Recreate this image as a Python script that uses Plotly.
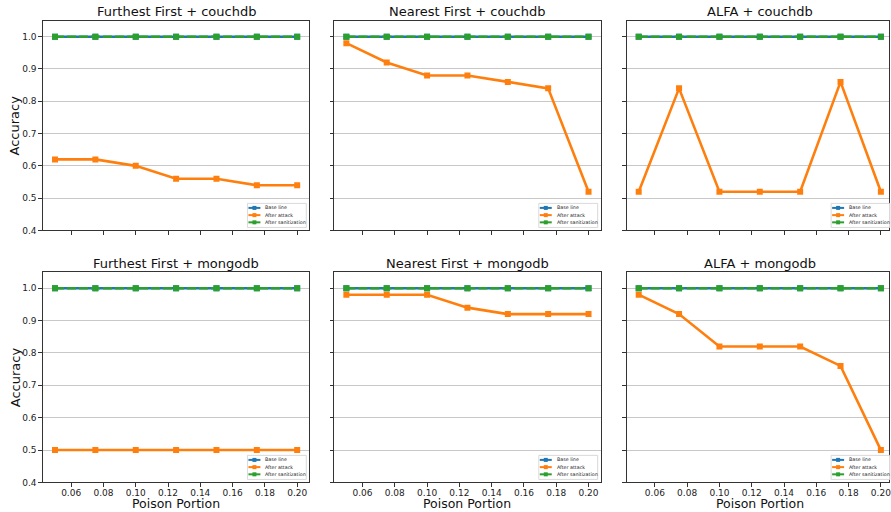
import plotly.graph_objects as go
from plotly.subplots import make_subplots

W, H = 891, 512
H_LAYOUT = 518  # the capture squeezes the page height slightly

portions = [0.05, 0.075, 0.10, 0.125, 0.15, 0.175, 0.20]
titles = ["Furthest First + couchdb", "Nearest First + couchdb", "ALFA + couchdb",
          "Furthest First + mongodb", "Nearest First + mongodb", "ALFA + mongodb"]
base_line = [1.0, 1.0, 1.0, 1.0, 1.0, 1.0, 1.0]
after_sanitization = [1.0, 1.0, 1.0, 1.0, 1.0, 1.0, 1.0]
attack_ff_couch = [0.62, 0.62, 0.60, 0.56, 0.56, 0.54, 0.54]
attack_nf_couch = [0.98, 0.92, 0.88, 0.88, 0.86, 0.84, 0.52]
attack_alfa_couch = [0.52, 0.84, 0.52, 0.52, 0.52, 0.86, 0.52]
attack_ff_mongo = [0.50, 0.50, 0.50, 0.50, 0.50, 0.50, 0.50]
attack_nf_mongo = [0.98, 0.98, 0.98, 0.94, 0.92, 0.92, 0.92]
attack_alfa_mongo = [0.98, 0.92, 0.82, 0.82, 0.82, 0.76, 0.50]
attacks = [attack_ff_couch, attack_nf_couch, attack_alfa_couch,
           attack_ff_mongo, attack_nf_mongo, attack_alfa_mongo]
series_names = ["Base line", "After attack", "After sanitization"]
y_ticks = [0.4, 0.5, 0.6, 0.7, 0.8, 0.9, 1.0]
x_ticks = [0.06, 0.08, 0.10, 0.12, 0.14, 0.16, 0.18, 0.20]

BLUE, ORANGE, GREEN = "#1f77b4", "#ff7f0e", "#2ca02c"
FONT = "DejaVu Sans"
AX = "#333333"

# pixel geometry of axes boxes (reference image pixels)
col_px = [(43, 310), (335, 602), (628, 891)]
row_px = [(20.5, 230), (271.5, 481.5)]
xscale = 267 / 0.165

fig = make_subplots(rows=2, cols=3)

for i in range(6):
    r, c = divmod(i, 3)
    fig.add_trace(go.Scatter(x=portions, y=base_line, mode="lines+markers", name=series_names[0],
                             line=dict(color=BLUE, width=2.6), marker=dict(symbol="square", size=6, color=BLUE),
                             showlegend=False), row=r + 1, col=c + 1)
    fig.add_trace(go.Scatter(x=portions, y=attacks[i], mode="lines+markers", name=series_names[1],
                             line=dict(color=ORANGE, width=2.6), marker=dict(symbol="square", size=6, color=ORANGE),
                             showlegend=False), row=r + 1, col=c + 1)
    fig.add_trace(go.Scatter(x=portions, y=after_sanitization, mode="lines+markers", name=series_names[2],
                             line=dict(color=GREEN, width=2.6, dash="9px,3px"),
                             marker=dict(symbol="square", size=6, color=GREEN),
                             showlegend=False), row=r + 1, col=c + 1)

annotations = []
shapes = []

def px(x):
    return x / W

def py(y):
    return 1 - y / H

for i in range(6):
    r, c = divmod(i, 3)
    L, R = col_px[c]
    T, B = row_px[r]
    n = "" if i == 0 else str(i + 1)
    xr = [0.0425, 0.0425 + (R - L) / xscale]
    fig.layout["xaxis" + n].update(
        domain=[px(L), px(R)], range=xr, tickvals=x_ticks, tickformat=".2f",
        showticklabels=(r == 1), ticks="outside", ticklen=3.5, tickwidth=1, tickcolor=AX,
        showline=True, mirror=True, linecolor=AX, linewidth=1, showgrid=False, zeroline=False,
        ticklabeloverflow="allow",
        tickfont=dict(family=FONT, size=9, color="#222"))
    try:
        fig.layout["xaxis" + n].ticklabelstandoff = -2
    except Exception:
        pass
    fig.layout["yaxis" + n].update(
        domain=[py(B), py(T)], range=[0.4, 1.05], tickvals=y_ticks, tickformat=".1f",
        showticklabels=(c == 0), ticks="outside", ticklen=3.5, tickwidth=1, tickcolor=AX,
        showline=True, mirror=True, linecolor=AX, linewidth=1, showgrid=True,
        gridcolor="#c8c8c8", gridwidth=1, zeroline=False,
        tickfont=dict(family=FONT, size=9, color="#222"))
    # subplot title
    cx = (L + (L + 267)) / 2 if c == 2 else (L + R) / 2
    annotations.append(dict(text=titles[i], x=px(cx), y=py(T - 9), xref="paper", yref="paper",
                            xanchor="center", yanchor="middle", showarrow=False,
                            font=dict(family=FONT, size=13, color="#111")))
    # legend box
    shapes.append(dict(type="rect", xref="paper", yref="paper", x0=px(L + 205), x1=px(L + 264),
                       y0=py(B - 3), y1=py(B - 27), fillcolor="rgba(255,255,255,0.85)",
                       line=dict(color="#d0d0d0", width=0.8), layer="above"))
    for k, (nm, col) in enumerate(zip(series_names, [BLUE, ORANGE, GREEN])):
        yy = B - 22.5 + 7.2 * k
        shapes.append(dict(type="line", xref="paper", yref="paper", x0=px(L + 206), x1=px(L + 218),
                           y0=py(yy), y1=py(yy), line=dict(color=col, width=2), layer="above"))
        shapes.append(dict(type="rect", xref="paper", yref="paper", x0=px(L + 210), x1=px(L + 214),
                           y0=py(yy - 2), y1=py(yy + 2), fillcolor=col, line=dict(width=0), layer="above"))
        annotations.append(dict(text=nm, x=px(L + 221), y=py(yy), xref="paper", yref="paper",
                                xanchor="left", yanchor="middle", showarrow=False,
                                font=dict(family=FONT, size=4.8, color="#222")))

# axis titles
for r in range(2):
    T, B = row_px[r]
    annotations.append(dict(text="Accuracy", x=px(15), y=py((T + B) / 2), xref="paper", yref="paper",
                            textangle=-90, xanchor="center", yanchor="middle", showarrow=False,
                            font=dict(family=FONT, size=13, color="#111")))
for c in range(3):
    L, R = col_px[c]
    cx = (L + L + 267) / 2
    annotations.append(dict(text="Poison Portion", x=px(cx), y=py(502.5), xref="paper", yref="paper",
                            xanchor="center", yanchor="middle", showarrow=False,
                            font=dict(family=FONT, size=12.5, color="#111")))

fig.update_layout(width=W, height=H_LAYOUT, margin=dict(l=0, r=0, t=0, b=0),
                  paper_bgcolor="white", plot_bgcolor="white",
                  annotations=annotations, shapes=shapes, showlegend=False,
                  font=dict(family=FONT))

fig.write_html("out.html", config={"displayModeBar": False},
               post_script="document.body.style.margin='0';document.body.style.padding='0';"
                           "document.body.style.overflow='hidden';")
